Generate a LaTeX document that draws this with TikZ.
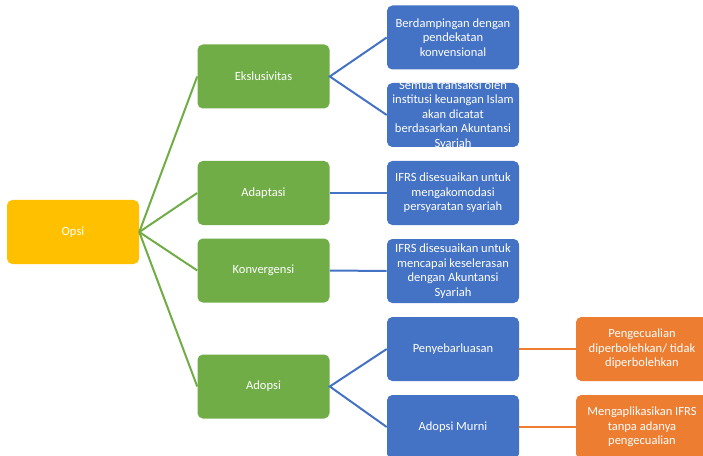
\documentclass[tikz,border=0pt]{standalone}
\usepackage{fontspec}
\setmainfont{Carlito}
\definecolor{opsiyellow}{HTML}{FFC000}
\definecolor{optgreen}{HTML}{70AD47}
\definecolor{optblue}{HTML}{4472C4}
\definecolor{optorange}{HTML}{ED7D31}

\tikzset{
  optbox/.style={rounded corners=4pt, minimum width=99pt, minimum height=48pt,
    inner xsep=1pt, inner ysep=2pt, text=white, align=center,
    font=\fontsize{9.4}{10.9}\selectfont},
  rootbox/.style={optbox, fill=opsiyellow},
  greenbox/.style={optbox, fill=optgreen},
  bluebox/.style={optbox, fill=optblue},
  orangebox/.style={optbox, fill=optorange},
  link/.style={line width=1.5pt}
}

\begin{document}
\begin{tikzpicture}[x=0.75pt,y=-0.75pt]
  \useasboundingbox (0,0) rectangle (703,456);
  \clip (0,0) rectangle (703,456);

  % root
  \node[rootbox] (opsi) at (73,232) {Opsi};

  % options
  \node[greenbox] (eksklusif) at (263.5,76.5) {Ekslusivitas};
  \node[greenbox] (adaptasi) at (263.5,193) {Adaptasi};
  \node[greenbox] (konvergensi) at (263.5,270.5) {Konvergensi};
  \node[greenbox] (adopsi) at (263.5,386.5) {Adopsi};

  % details
  \node[bluebox] (berdamping) at (453,37.5) {Berdampingan dengan\\pendekatan\\konvensional};
  \node[bluebox, inner ysep=-2.5pt] (semua) at (453,115)
    {Semua transaksi oleh\\institusi keuangan Islam\\akan dicatat\\berdasarkan Akuntansi\\Syariah};
  \node[bluebox] (sesuai) at (453,193) {IFRS disesuaikan untuk\\mengakomodasi\\persyaratan syariah};
  \node[bluebox] (selaras) at (453,271) {IFRS disesuaikan untuk\\mencapai keselerasan\\dengan Akuntansi\\Syariah};
  \node[bluebox] (sebar) at (453,349) {Penyebarluasan};
  \node[bluebox] (murni) at (453,427) {Adopsi Murni};

  \node[orangebox] (kecuali) at (642,349) {Pengecualian\\diperbolehkan/ tidak\\diperbolehkan};
  \node[orangebox] (terap) at (642,427) {Mengaplikasikan IFRS\\tanpa adanya\\pengecualian};

  % connectors
  \foreach \opt in {eksklusif,adaptasi,konvergensi,adopsi}
    \draw[link, optgreen] (opsi.east) -- (\opt.west);
  \draw[link, optblue] (berdamping.west) -- (eksklusif.east) -- (semua.west);
  \draw[link, optblue] (adaptasi.east) -- (sesuai.west);
  \draw[link, optblue] (konvergensi.east) -- (selaras.west);
  \draw[link, optblue] (sebar.west) -- (adopsi.east) -- (murni.west);
  \draw[link, optorange] (sebar.east) -- (kecuali.west);
  \draw[link, optorange] (murni.east) -- (terap.west);
\end{tikzpicture}
\end{document}
